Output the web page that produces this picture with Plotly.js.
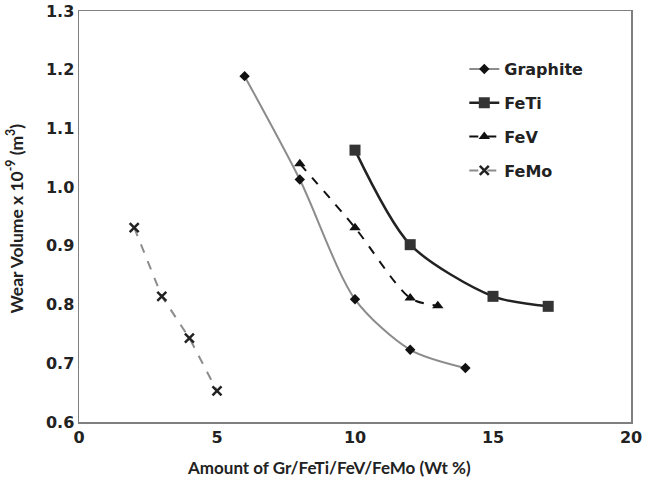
<!DOCTYPE html>
<html><head><meta charset="utf-8">
<script src="https://cdn.plot.ly/plotly-3.0.1.min.js"></script>
<style>body{margin:0;background:#fff}#chart{width:647px;height:487px}</style>
</head><body><div id="chart"></div>
<script>
const graphiteX = [6, 8, 10, 12, 14];
const graphiteY = [1.189, 1.013, 0.809, 0.723, 0.692];
const fetiX = [10, 12, 15, 17];
const fetiY = [1.063, 0.902, 0.814, 0.797];
const fevX = [8, 10, 12, 13];
const fevY = [1.04, 0.931, 0.811, 0.798];
const femoX = [2, 3, 4, 5];
const femoY = [0.931, 0.814, 0.743, 0.653];
const xTitle = 'Amount of Gr/FeTi/FeV/FeMo (Wt %)';
const yTitle = 'Wear Volume x 10<sup>-9</sup> (m<sup>3</sup>)';

const tfont = "'DejaVu Sans', sans-serif";
const lfont = "Lato, 'Open Sans', sans-serif";
const ink = '#222';
const traces = [
  {x: graphiteX, y: graphiteY, name: 'Graphite', legendgroup: 'a', mode: 'lines+markers',
   line: {color: '#8c8c8c', width: 2, shape: 'spline', smoothing: 0.8},
   marker: {symbol: 'diamond', size: 8, color: '#111'}},
  {x: fetiX, y: fetiY, name: 'FeTi', legendgroup: 'b', mode: 'lines+markers',
   line: {color: '#222', width: 2.5, shape: 'spline', smoothing: 0.8},
   marker: {symbol: 'square', size: 11, color: '#333'}},
  {x: fevX, y: fevY, name: 'FeV', legendgroup: 'c', mode: 'lines+markers',
   line: {color: '#111', width: 2, dash: 'dash', shape: 'spline', smoothing: 0.8},
   marker: {symbol: 'triangle-up', size: 10, color: '#111'}},
  {x: femoX, y: femoY, name: 'FeMo', legendgroup: 'd', mode: 'lines+markers',
   line: {color: '#8c8c8c', width: 2, dash: 'dash'},
   marker: {symbol: 'x-thin-open', size: 9, color: ink, line: {width: 2.5, color: ink}}}
];
const layout = {
  width: 647, height: 487,
  margin: {l: 79, r: 16, t: 11, b: 65},
  paper_bgcolor: '#fff', plot_bgcolor: '#fff',
  font: {family: tfont, color: ink},
  showlegend: true,
  legend: {x: 0.698, y: 0.9, xanchor: 'left', yanchor: 'top',
    font: {family: tfont, size: 16, color: ink, weight: 'bold'},
    tracegroupgap: 10, itemwidth: 30, bgcolor: 'rgba(0,0,0,0)'},
  xaxis: {range: [0, 20], dtick: 5, showgrid: false, zeroline: false,
    showline: true, linecolor: '#7f7f7f', linewidth: 1.5, mirror: true,
    ticks: '', ticklen: 0,
    tickfont: {family: tfont, size: 16, color: ink, weight: 'bold'}},
  yaxis: {range: [0.6, 1.3], dtick: 0.1, tickformat: '.1f', showgrid: false, zeroline: false,
    showline: true, linecolor: '#7f7f7f', linewidth: 1.5, mirror: true,
    ticks: '', ticklen: 0,
    tickfont: {family: tfont, size: 16, color: ink, weight: 'bold'}},
  annotations: [
    {text: xTitle, xref: 'paper', yref: 'paper', x: 0.453, y: -0.11,
     xanchor: 'center', yanchor: 'middle', showarrow: false,
     font: {family: lfont, size: 17, color: ink, weight: 'bold'}},
    {text: yTitle, xref: 'paper', yref: 'paper', x: -0.116, y: 0.495,
     xanchor: 'center', yanchor: 'middle', showarrow: false, textangle: -90,
     font: {family: lfont, size: 17.5, color: ink, weight: 'bold'}}
  ]
};
Plotly.newPlot('chart', traces, layout, {displayModeBar: false, staticPlot: true});
</script></body></html>
